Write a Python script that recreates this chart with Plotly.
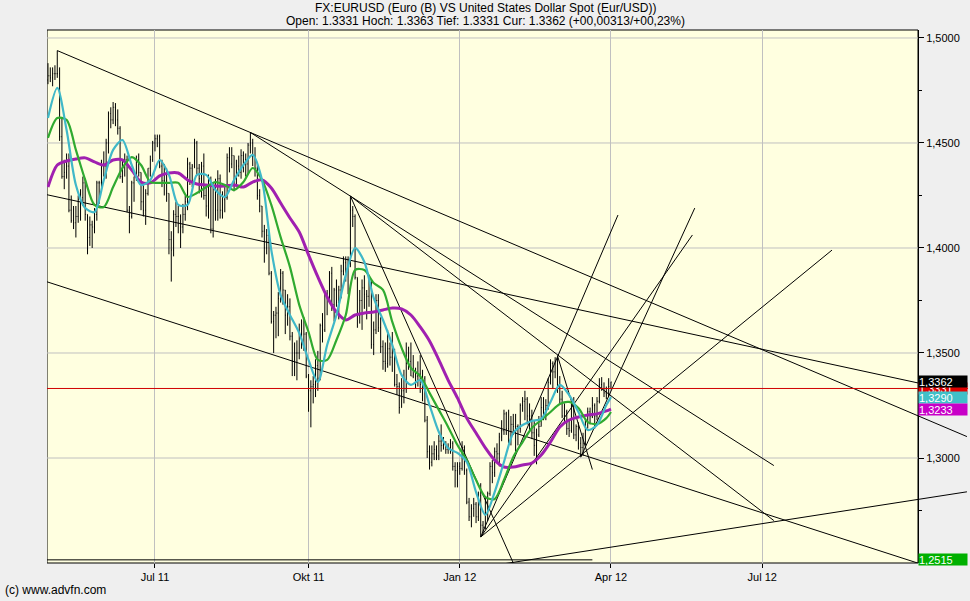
import pandas as pd
import plotly.graph_objects as go

# ---------------- daily EUR/USD bars (Apr 28 2011 .. Apr 2 2012, weekdays) ----------------
opens = [
    1.4800, 1.4820,
    1.4810, 1.4830, 1.4830, 1.4830, 1.4530, 1.4340, 1.4360, 1.4390, 1.4180, 1.4130,
    1.4120, 1.4150, 1.4230, 1.4240, 1.4310, 1.4160, 1.4050, 1.4110, 1.4100, 1.4160,
    1.4310, 1.4310,
    1.4400, 1.4390, 1.4500, 1.4640, 1.4610, 1.4670, 1.4610, 1.4570, 1.4340, 1.4400,
    1.4420, 1.4180, 1.4150, 1.4310, 1.4340, 1.4420, 1.4360, 1.4220, 1.4180, 1.4260,
    1.4380, 1.4420,
    1.4500, 1.4520, 1.4530, 1.4390, 1.4320, 1.4320, 1.4260, 1.4040, 1.3990, 1.4160,
    1.4150, 1.4150, 1.4100, 1.4160, 1.4220, 1.4400, 1.4380, 1.4390, 1.4500, 1.4380,
    1.4330,
    1.4390, 1.4250, 1.4200, 1.4320, 1.4090, 1.4280, 1.4180, 1.4330, 1.4180, 1.4230,
    1.4240, 1.4430, 1.4400, 1.4440, 1.4330, 1.4390, 1.4360, 1.4440, 1.4420, 1.4400,
    1.4490, 1.4500, 1.4440,
    1.4380, 1.4250, 1.4200, 1.4080, 1.4000, 1.4060, 1.3880, 1.3650, 1.3680, 1.3690,
    1.3760, 1.3880, 1.3800, 1.3680, 1.3720, 1.3580, 1.3460, 1.3500, 1.3500, 1.3590,
    1.3540, 1.3590,
    1.3390, 1.3320, 1.3340, 1.3350, 1.3440, 1.3380, 1.3630, 1.3610, 1.3780, 1.3760,
    1.3880, 1.3730, 1.3800, 1.3740, 1.3800, 1.3890, 1.3930, 1.3900, 1.3910, 1.4180,
    1.4150,
    1.3860, 1.3680, 1.3750, 1.3810, 1.3780, 1.3770, 1.3830, 1.3540, 1.3610, 1.3750,
    1.3620, 1.3530, 1.3460, 1.3450, 1.3520, 1.3480, 1.3500, 1.3350, 1.3340, 1.3240,
    1.3320, 1.3330,
    1.3450, 1.3460, 1.3390, 1.3400, 1.3390, 1.3400, 1.3350, 1.3380, 1.3180, 1.3030,
    1.2980, 1.3020, 1.3040, 1.3010, 1.3080, 1.3060, 1.3060, 1.3040, 1.3050, 1.3070,
    1.2960, 1.2940,
    1.2960, 1.2950, 1.3050, 1.2940, 1.2790, 1.2720, 1.2760, 1.2780, 1.2720, 1.2820,
    1.2680, 1.2670, 1.2740, 1.2830, 1.2960, 1.2930, 1.3030, 1.3020, 1.3100, 1.3130,
    1.3210, 1.3140,
    1.3080, 1.3160, 1.3150, 1.3150, 1.3140, 1.3250, 1.3270, 1.3280, 1.3200, 1.3200,
    1.3120, 1.3060, 1.3110, 1.3150, 1.3240, 1.3230, 1.3250, 1.3360, 1.3450, 1.3410,
    1.3460,
    1.3330, 1.3280, 1.3200, 1.3220, 1.3140, 1.3130, 1.3260, 1.3110, 1.3150, 1.3070,
    1.3050, 1.3070, 1.3170, 1.3220, 1.3200, 1.3250, 1.3200, 1.3270, 1.3350, 1.3330,
    1.3310, 1.3300,
    1.3331,
]
highs = [
    1.4880, 1.4860,
    1.4860, 1.4870, 1.4940, 1.4860, 1.4620, 1.4420, 1.4450, 1.4450, 1.4250, 1.4200,
    1.4200, 1.4250, 1.4280, 1.4340, 1.4330, 1.4160, 1.4150, 1.4130, 1.4190, 1.4320,
    1.4320, 1.4420,
    1.4460, 1.4520, 1.4650, 1.4670, 1.4695, 1.4690, 1.4660, 1.4580, 1.4420, 1.4450,
    1.4440, 1.4200, 1.4320, 1.4340, 1.4440, 1.4450, 1.4360, 1.4300, 1.4280, 1.4380,
    1.4440, 1.4510,
    1.4540, 1.4540, 1.4540, 1.4420, 1.4400, 1.4380, 1.4260, 1.4080, 1.4180, 1.4220,
    1.4200, 1.4160, 1.4210, 1.4250, 1.4430, 1.4410, 1.4400, 1.4520, 1.4510, 1.4400,
    1.4410,
    1.4450, 1.4300, 1.4350, 1.4340, 1.4290, 1.4330, 1.4370, 1.4350, 1.4270, 1.4290,
    1.4450, 1.4480, 1.4480, 1.4440, 1.4420, 1.4440, 1.4470, 1.4460, 1.4450, 1.4500,
    1.4550, 1.4520, 1.4480,
    1.4410, 1.4280, 1.4200, 1.4110, 1.4090, 1.4080, 1.3890, 1.3700, 1.3720, 1.3790,
    1.3900, 1.3890, 1.3800, 1.3780, 1.3760, 1.3600, 1.3550, 1.3560, 1.3640, 1.3660,
    1.3670, 1.3600,
    1.3400, 1.3370, 1.3390, 1.3470, 1.3510, 1.3640, 1.3690, 1.3790, 1.3800, 1.3890,
    1.3910, 1.3810, 1.3850, 1.3820, 1.3920, 1.3960, 1.3960, 1.3960, 1.4247, 1.4200,
    1.4160,
    1.3860, 1.3800, 1.3850, 1.3870, 1.3800, 1.3850, 1.3850, 1.3650, 1.3780, 1.3780,
    1.3670, 1.3560, 1.3550, 1.3610, 1.3550, 1.3600, 1.3520, 1.3400, 1.3360, 1.3380,
    1.3420, 1.3550,
    1.3530, 1.3550, 1.3490, 1.3430, 1.3460, 1.3490, 1.3420, 1.3390, 1.3200, 1.3060,
    1.3060, 1.3080, 1.3060, 1.3110, 1.3160, 1.3100, 1.3080, 1.3070, 1.3090, 1.3080,
    1.2980, 1.2980,
    1.2980, 1.3080, 1.3060, 1.2950, 1.2810, 1.2780, 1.2810, 1.2790, 1.2840, 1.2880,
    1.2700, 1.2810, 1.2840, 1.2980, 1.2990, 1.3050, 1.3070, 1.3120, 1.3180, 1.3230,
    1.3220, 1.3230,
    1.3200, 1.3210, 1.3210, 1.3160, 1.3260, 1.3290, 1.3320, 1.3290, 1.3260, 1.3230,
    1.3180, 1.3140, 1.3200, 1.3290, 1.3290, 1.3280, 1.3380, 1.3470, 1.3460, 1.3480,
    1.3487,
    1.3390, 1.3320, 1.3260, 1.3230, 1.3180, 1.3280, 1.3290, 1.3160, 1.3170, 1.3100,
    1.3120, 1.3190, 1.3240, 1.3240, 1.3290, 1.3260, 1.3290, 1.3380, 1.3385, 1.3360,
    1.3340, 1.3380,
    1.3363,
]
lows = [
    1.4780, 1.4790,
    1.4770, 1.4800, 1.4810, 1.4510, 1.4330, 1.4280, 1.4330, 1.4170, 1.4120, 1.4090,
    1.4050, 1.4120, 1.4130, 1.4200, 1.4130, 1.3970, 1.4010, 1.4000, 1.4070, 1.4130,
    1.4210, 1.4290,
    1.4340, 1.4330, 1.4450, 1.4570, 1.4590, 1.4580, 1.4540, 1.4330, 1.4310, 1.4340,
    1.4170, 1.4070, 1.4140, 1.4220, 1.4320, 1.4340, 1.4180, 1.4150, 1.4110, 1.4250,
    1.4340, 1.4410,
    1.4460, 1.4480, 1.4380, 1.4290, 1.4250, 1.4220, 1.3970, 1.3840, 1.3960, 1.4100,
    1.4070, 1.4000, 1.4070, 1.4130, 1.4180, 1.4300, 1.4290, 1.4380, 1.4350, 1.4260,
    1.4240,
    1.4230, 1.4150, 1.4140, 1.4070, 1.4050, 1.4130, 1.4130, 1.4140, 1.4140, 1.4170,
    1.4230, 1.4360, 1.4380, 1.4270, 1.4290, 1.4340, 1.4330, 1.4360, 1.4340, 1.4350,
    1.4450, 1.4390, 1.4340,
    1.4230, 1.4170, 1.4050, 1.3930, 1.3970, 1.3870, 1.3640, 1.3500, 1.3570, 1.3580,
    1.3740, 1.3730, 1.3590, 1.3630, 1.3560, 1.3390, 1.3390, 1.3370, 1.3470, 1.3520,
    1.3510, 1.3380,
    1.3220, 1.3146, 1.3260, 1.3290, 1.3320, 1.3370, 1.3550, 1.3600, 1.3680, 1.3740,
    1.3700, 1.3650, 1.3720, 1.3660, 1.3760, 1.3870, 1.3840, 1.3780, 1.3910, 1.4100,
    1.3850,
    1.3620, 1.3640, 1.3610, 1.3710, 1.3660, 1.3720, 1.3520, 1.3490, 1.3590, 1.3600,
    1.3500, 1.3420, 1.3410, 1.3430, 1.3440, 1.3410, 1.3340, 1.3300, 1.3211, 1.3240,
    1.3260, 1.3310,
    1.3420, 1.3390, 1.3380, 1.3330, 1.3340, 1.3310, 1.3270, 1.3170, 1.3000, 1.2945,
    1.2960, 1.2990, 1.2990, 1.2990, 1.3030, 1.3040, 1.3020, 1.3020, 1.3020, 1.2940,
    1.2860, 1.2860,
    1.2920, 1.2940, 1.2920, 1.2780, 1.2700, 1.2670, 1.2720, 1.2690, 1.2700, 1.2624,
    1.2640, 1.2660, 1.2700, 1.2820, 1.2880, 1.2910, 1.2980, 1.2960, 1.3080, 1.3110,
    1.3110, 1.3070,
    1.3060, 1.3110, 1.3030, 1.3060, 1.3120, 1.3220, 1.3180, 1.3160, 1.3130, 1.3090,
    1.3010, 1.2970, 1.3100, 1.3150, 1.3180, 1.3180, 1.3230, 1.3350, 1.3330, 1.3380,
    1.3310,
    1.3260, 1.3190, 1.3170, 1.3110, 1.3100, 1.3120, 1.3090, 1.3080, 1.3040, 1.3004,
    1.3010, 1.3060, 1.3140, 1.3160, 1.3190, 1.3140, 1.3180, 1.3260, 1.3320, 1.3290,
    1.3280, 1.3290,
    1.3331,
]
closes = [
    1.4820, 1.4810,
    1.4830, 1.4830, 1.4830, 1.4530, 1.4340, 1.4360, 1.4390, 1.4180, 1.4130, 1.4120,
    1.4150, 1.4230, 1.4240, 1.4310, 1.4160, 1.4050, 1.4110, 1.4100, 1.4160, 1.4310,
    1.4310, 1.4400,
    1.4390, 1.4500, 1.4640, 1.4610, 1.4670, 1.4610, 1.4570, 1.4340, 1.4400, 1.4420,
    1.4180, 1.4150, 1.4310, 1.4340, 1.4420, 1.4360, 1.4220, 1.4180, 1.4260, 1.4380,
    1.4420, 1.4500,
    1.4520, 1.4530, 1.4390, 1.4320, 1.4320, 1.4260, 1.4040, 1.3990, 1.4160, 1.4150,
    1.4150, 1.4100, 1.4160, 1.4220, 1.4400, 1.4380, 1.4390, 1.4500, 1.4380, 1.4330,
    1.4390,
    1.4250, 1.4200, 1.4320, 1.4090, 1.4280, 1.4180, 1.4330, 1.4180, 1.4230, 1.4240,
    1.4430, 1.4400, 1.4440, 1.4330, 1.4390, 1.4360, 1.4440, 1.4420, 1.4400, 1.4490,
    1.4500, 1.4440, 1.4380,
    1.4250, 1.4200, 1.4080, 1.4000, 1.4060, 1.3880, 1.3650, 1.3680, 1.3690, 1.3760,
    1.3880, 1.3800, 1.3680, 1.3720, 1.3580, 1.3460, 1.3500, 1.3500, 1.3590, 1.3540,
    1.3590, 1.3390,
    1.3320, 1.3340, 1.3350, 1.3440, 1.3380, 1.3630, 1.3610, 1.3780, 1.3760, 1.3880,
    1.3730, 1.3800, 1.3740, 1.3800, 1.3890, 1.3930, 1.3900, 1.3910, 1.4180, 1.4150,
    1.3860,
    1.3680, 1.3750, 1.3810, 1.3780, 1.3770, 1.3830, 1.3540, 1.3610, 1.3750, 1.3620,
    1.3530, 1.3460, 1.3450, 1.3520, 1.3480, 1.3500, 1.3350, 1.3340, 1.3240, 1.3320,
    1.3330, 1.3450,
    1.3460, 1.3390, 1.3400, 1.3390, 1.3400, 1.3350, 1.3380, 1.3180, 1.3030, 1.2980,
    1.3020, 1.3040, 1.3010, 1.3080, 1.3060, 1.3060, 1.3040, 1.3050, 1.3070, 1.2960,
    1.2940, 1.2960,
    1.2950, 1.3050, 1.2940, 1.2790, 1.2720, 1.2760, 1.2780, 1.2720, 1.2820, 1.2680,
    1.2670, 1.2740, 1.2830, 1.2960, 1.2930, 1.3030, 1.3020, 1.3100, 1.3130, 1.3210,
    1.3140, 1.3080,
    1.3160, 1.3150, 1.3150, 1.3140, 1.3250, 1.3270, 1.3280, 1.3200, 1.3200, 1.3120,
    1.3060, 1.3110, 1.3150, 1.3240, 1.3230, 1.3250, 1.3360, 1.3450, 1.3410, 1.3460,
    1.3330,
    1.3280, 1.3200, 1.3220, 1.3140, 1.3130, 1.3260, 1.3110, 1.3150, 1.3070, 1.3050,
    1.3070, 1.3170, 1.3220, 1.3200, 1.3250, 1.3200, 1.3270, 1.3350, 1.3330, 1.3310,
    1.3300, 1.3340,
    1.3362,
]
assert len(opens) == len(highs) == len(lows) == len(closes) == 243, (len(opens), len(highs), len(lows), len(closes))
dates = pd.bdate_range("2011-04-28", periods=len(closes))

# ---------------- moving averages, read every 4th bar ----------------
ma_idx = list(range(0, 241, 4)) + [242]
ma_cyan = [
    1.4619, 1.4762, 1.4562, 1.4300, 1.4190, 1.4171, 1.4324, 1.4467, 1.4514, 1.4395,
    1.4300, 1.4324, 1.4419, 1.4348, 1.4205, 1.4205, 1.4348, 1.4348, 1.4276, 1.4243,
    1.4324, 1.4395, 1.4443, 1.4324, 1.3990, 1.3776, 1.3681, 1.3595, 1.3467, 1.3362,
    1.3538, 1.3681, 1.3871, 1.4000, 1.3933, 1.3762, 1.3657, 1.3538, 1.3395, 1.3348,
    1.3371, 1.3252, 1.3124, 1.3048, 1.3024, 1.2981, 1.2838, 1.2729, 1.2838, 1.2981,
    1.3119, 1.3157, 1.3176, 1.3186, 1.3267, 1.3348, 1.3300, 1.3219, 1.3133, 1.3157,
    1.3252, 1.3290,
]
ma_green = [
    1.4524, 1.4619, 1.4610, 1.4467, 1.4324, 1.4205, 1.4195, 1.4290, 1.4381, 1.4433,
    1.4395, 1.4314, 1.4310, 1.4310, 1.4310, 1.4243, 1.4262, 1.4290, 1.4314, 1.4300,
    1.4276, 1.4314, 1.4381, 1.4324, 1.4205, 1.4052, 1.3910, 1.3729, 1.3600, 1.3467,
    1.3467, 1.3562, 1.3681, 1.3895, 1.3895, 1.3833, 1.3800, 1.3648, 1.3524, 1.3429,
    1.3390, 1.3310, 1.3229, 1.3148, 1.3062, 1.2990, 1.2895, 1.2814, 1.2805, 1.2895,
    1.3005, 1.3076, 1.3143, 1.3181, 1.3219, 1.3257, 1.3267, 1.3238, 1.3171, 1.3162,
    1.3190, 1.3219,
]
ma_purple = [
    1.4290, 1.4395, 1.4414, 1.4424, 1.4429, 1.4410, 1.4395, 1.4419, 1.4419, 1.4371,
    1.4314, 1.4310, 1.4343, 1.4357, 1.4357, 1.4324, 1.4305, 1.4300, 1.4295, 1.4295,
    1.4300, 1.4290, 1.4314, 1.4324, 1.4286, 1.4214, 1.4143, 1.4076, 1.3967, 1.3862,
    1.3767, 1.3695, 1.3657, 1.3681, 1.3690, 1.3695, 1.3705, 1.3714, 1.3710, 1.3681,
    1.3624, 1.3557, 1.3467, 1.3371, 1.3286, 1.3190, 1.3119, 1.3048, 1.2990, 1.2957,
    1.2957, 1.2967, 1.2976, 1.3014, 1.3076, 1.3148, 1.3181, 1.3195, 1.3205, 1.3210,
    1.3224, 1.3233,
]
ma_dates = dates[ma_idx]

# ---------------- drawn trend lines (date, price) ----------------
line_x0 = ["2011-05-04", "2011-08-29", "2011-10-27", "2011-10-27", "2011-04-27", "2011-04-27",
           "2012-01-13", "2012-02-29", "2012-01-13", "2012-03-14", "2012-01-13", "2012-01-13",
           "2011-04-27"]
line_y0 = [1.4940, 1.4550, 1.4247, 1.4247, 1.4255, 1.3841,
           1.2479, 1.3487, 1.2624, 1.3004, 1.2624, 1.2624,
           1.2515]
line_x1 = ["2012-11-01", "2012-07-09", "2012-02-02", "2012-07-09", "2012-11-01", "2012-11-01",
           "2012-11-01", "2012-03-21", "2012-04-05", "2012-05-22", "2012-05-21", "2012-08-13",
           "2012-03-21"]
line_y1 = [1.3102, 1.2964, 1.2500, 1.2702, 1.3307, 1.2424,
           1.2839, 1.2945, 1.4157, 1.4190, 1.4062, 1.3990,
           1.2515]

open_level = 1.3331
last_price = 1.3362

y_tick_vals = [1.30, 1.35, 1.40, 1.45, 1.50]
y_tick_text = ["1,3000", "1,3500", "1,4000", "1,4500", "1,5000"]
y_minor_vals = [1.275, 1.325, 1.375, 1.425, 1.475]
x_tick_vals = ["2011-07-01", "2011-10-03", "2012-01-02", "2012-04-02", "2012-07-02"]
x_tick_text = ["Jul 11", "Okt 11", "Jan 12", "Apr 12", "Jul 12"]

side_labels = [  # (value, text, background)
    (1.3331, "1,3331", "#e00000"),
    (1.3290, "1,3290", "#40c0c8"),
    (1.3362, "1,3362", "#000000"),
    (1.3233, "1,3233", "#c800c8"),
    (1.2515, "1,2515", "#00b000"),
]

# ---------------- figure ----------------
FONT = "Liberation Sans, Arial, sans-serif"
X_START = "2011-04-27 14:00"
X_FRAME_END = "2012-10-02 23:00"
X_END = "2012-11-01 10:48"
Y_RANGE = [1.25, 1.5038]
AXIS_POS = 871 / 921

fig = go.Figure()

lx, ly = [], []
for a, b, c, d in zip(line_x0, line_y0, line_x1, line_y1):
    lx += [a, c, None]
    ly += [b, d, None]
fig.add_trace(go.Scatter(x=lx, y=ly, mode="lines", line=dict(color="black", width=1),
                         hoverinfo="skip", showlegend=False))
fig.add_trace(go.Scatter(x=[X_START, X_END], y=[open_level, open_level], mode="lines",
                         line=dict(color="#d00000", width=1), hoverinfo="skip", showlegend=False))

fig.add_trace(go.Ohlc(x=dates, open=opens, high=highs, low=lows, close=closes,
                      increasing=dict(line=dict(color="black", width=1)),
                      decreasing=dict(line=dict(color="black", width=1)),
                      tickwidth=0.25, showlegend=False, hoverinfo="skip"))

fig.add_trace(go.Scatter(x=ma_dates, y=ma_purple, mode="lines",
                         line=dict(color="#a020b0", width=3, shape="spline", smoothing=0.8),
                         showlegend=False, hoverinfo="skip"))
fig.add_trace(go.Scatter(x=ma_dates, y=ma_green, mode="lines",
                         line=dict(color="#30aa30", width=2.2, shape="spline", smoothing=0.8),
                         showlegend=False, hoverinfo="skip"))
fig.add_trace(go.Scatter(x=ma_dates, y=ma_cyan, mode="lines",
                         line=dict(color="#40b8c8", width=2.2, shape="spline", smoothing=0.8),
                         showlegend=False, hoverinfo="skip"))

shapes = [dict(type="rect", xref="x", yref="y domain", x0=X_START, x1=X_FRAME_END, y0=0, y1=1,
               fillcolor="#ffffe0", line=dict(color="black", width=1), layer="below")]
for v in y_tick_vals:
    shapes.append(dict(type="line", xref="x", yref="y", x0=X_START, x1=X_FRAME_END, y0=v, y1=v,
                       line=dict(color="#c0c0c0", width=1), layer="below"))

annotations = [
    dict(text="FX:EURUSD (Euro (B) VS United States Dollar Spot (Eur/USD))", xref="paper", yref="paper",
         x=0.4756, y=1.0413, xanchor="center", yanchor="middle", showarrow=False,
         font=dict(family=FONT, size=12, color="black")),
    dict(text="Open: 1.3331 Hoch: 1.3363 Tief: 1.3331 Cur: 1.3362 (+00,00313/+00,23%)", xref="paper",
         yref="paper", x=0.4756, y=1.0169, xanchor="center", yanchor="middle", showarrow=False,
         font=dict(family=FONT, size=12, color="black")),
    dict(text="(c) www.advfn.com", xref="paper", yref="paper", x=-0.0478, y=-0.0507,
         xanchor="left", yanchor="middle", showarrow=False, font=dict(family=FONT, size=12, color="black")),
]
for v, t, bg in side_labels:
    annotations.append(dict(text=t, xref="paper", yref="y", x=AXIS_POS, y=v, xanchor="left",
                            yanchor="middle", showarrow=False, bgcolor=bg, width=48, height=11,
                            align="left", borderpad=0,
                            font=dict(family=FONT, size=11, color="white")))

fig.update_layout(
    width=970, height=601,
    margin=dict(l=47, r=2, t=30, b=38),
    paper_bgcolor="#efefef", plot_bgcolor="#efefef",
    font=dict(family=FONT, size=11, color="black"),
    showlegend=False,
    shapes=shapes,
    annotations=annotations,
    xaxis=dict(type="date", range=[X_START, X_END], rangebreaks=[dict(bounds=["sat", "mon"])],
               tickvals=x_tick_vals, ticktext=x_tick_text, ticks="outside", ticklen=4,
               tickcolor="black", showgrid=True, gridcolor="#c0c0c0", gridwidth=1,
               showline=False, zeroline=False, rangeslider=dict(visible=False),
               tickfont=dict(family=FONT, size=11, color="black")),
    yaxis=dict(range=Y_RANGE, side="right", anchor="free", position=AXIS_POS,
               tickvals=y_tick_vals, ticktext=y_tick_text, ticks="outside", ticklen=5,
               tickcolor="black", showline=True, linecolor="black", linewidth=1,
               showgrid=False, zeroline=False,
               minor=dict(tickvals=y_minor_vals, ticks="outside", ticklen=3, tickcolor="black"),
               tickfont=dict(family=FONT, size=11, color="black")),
)

fig.write_html("out.html", config={"displayModeBar": False},
               post_script="document.body.style.margin='0px';document.body.style.overflow='hidden';")
